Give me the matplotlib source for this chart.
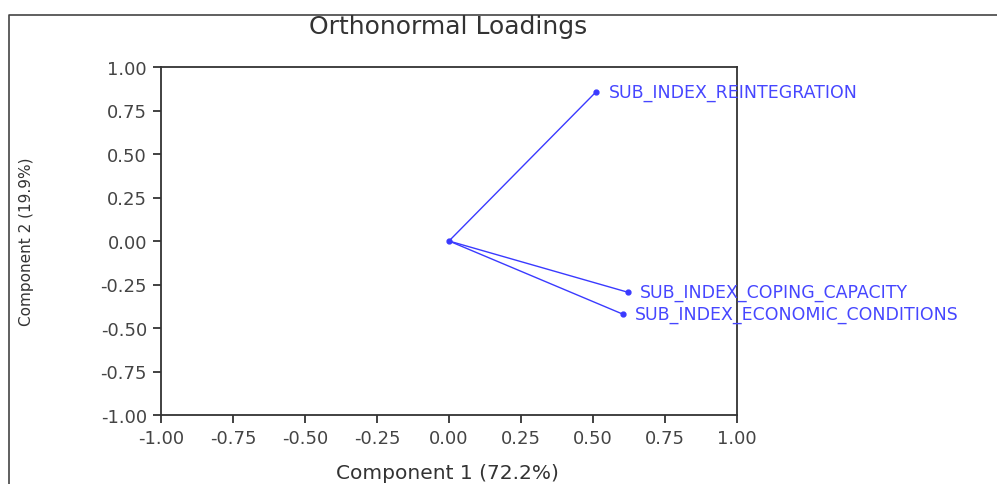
import matplotlib
matplotlib.use('Agg')
import matplotlib.pyplot as plt
from matplotlib.lines import Line2D

# loadings
variables = ['SUB_INDEX_REINTEGRATION',
             'SUB_INDEX_COPING_CAPACITY',
             'SUB_INDEX_ECONOMIC_CONDITIONS']
comp1 = [0.51, 0.62, 0.603]
comp2 = [0.856, -0.294, -0.42]
ticks = [-1.00, -0.75, -0.50, -0.25, 0.00, 0.25, 0.50, 0.75, 1.00]
tick_labels = ['%.2f' % t for t in ticks]

W, H = 997, 485
fig = plt.figure(figsize=(W / 100, H / 100), dpi=100)
ax = fig.add_axes([161 / W, 1 - 416 / H, (737 - 161) / W, (416 - 68) / H])

blue = '#3a3aff'
for x, y, name in zip(comp1, comp2, variables):
    ax.plot([0, x], [0, y], color=blue, linewidth=1.0)
    ax.plot([x], [y], marker='o', markersize=3.5, color=blue)
    ax.annotate(name, (x, y), xytext=(9, 0), textcoords='offset points',
                ha='left', va='center', fontsize=12.5, color='#4646ff',
                annotation_clip=False, clip_on=False)
ax.plot([0], [0], marker='o', markersize=3.5, color=blue)

ax.set_xlim(-1, 1)
ax.set_ylim(-1, 1)
ax.set_xticks(ticks)
ax.set_yticks(ticks)
ax.set_xticklabels(tick_labels)
ax.set_yticklabels(tick_labels)
ax.tick_params(direction='out', length=6, width=1.3, labelsize=13,
               labelcolor='#444444', color='#333333', pad=4)
for s in ax.spines.values():
    s.set_linewidth(1.3)
    s.set_color('#333333')

# title and axis labels, placed like the reference
fig.text(448 / W, 1 - 27 / H, 'Orthonormal Loadings', ha='center', va='center',
         fontsize=18, color='#333333')
fig.text(447 / W, 1 - 474 / H, 'Component 1 (72.2%)', ha='center', va='center',
         fontsize=14.5, color='#333333')
fig.text(26 / W, 1 - 242 / H, 'Component 2 (19.9%)', ha='center', va='center',
         rotation=90, fontsize=11, color='#333333')

# outer frame (top and left edges only are visible)
fig.add_artist(Line2D([9 / W, 9 / W, 1], [0, 1 - 16 / H, 1 - 16 / H],
                      transform=fig.transFigure, color='#444444', linewidth=1.2))

fig.savefig('out.png', dpi=100)
